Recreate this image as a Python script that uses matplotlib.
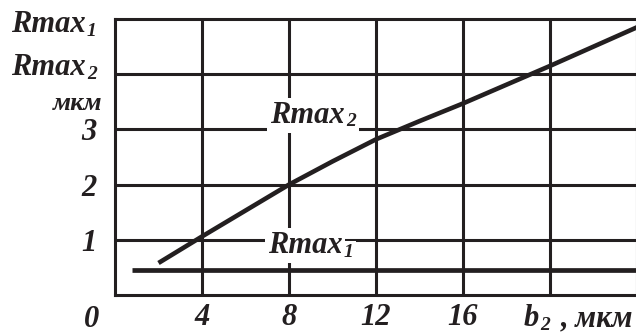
import matplotlib.pyplot as plt
from matplotlib import font_manager

font_file = '/usr/share/fonts/truetype/liberation/LiberationSerif-BoldItalic.ttf'
big = font_manager.FontProperties(fname=font_file, size=22)
small = font_manager.FontProperties(fname=font_file, size=14)
unit = font_manager.FontProperties(fname=font_file, size=19)

# Шероховатость Rmax2 в зависимости от b2 (мкм)
b2 = [2, 4, 6, 8, 10, 12, 14, 16, 18, 20, 22, 24]
rmax2 = [0.58, 1.06, 1.53, 2.0, 2.42, 2.82, 3.15, 3.47, 3.81, 4.15, 4.5, 4.85]

# Rmax1 постоянна
rmax1_b2 = [0.8, 24]
rmax1 = [0.45, 0.45]

xticks = [4, 8, 12, 16, 20]
xtick_labels = ['4', '8', '12', '16', '']
yticks = [1, 2, 3, 4]
ytick_labels = ['1', '2', '3', '']

ink = '#231f20'
W, H = 636, 333

fig = plt.figure(figsize=(W / 100, H / 100), dpi=100)
ax = fig.add_axes([115 / W, 38 / H, 24 * 21.75 / W, 5 * 55.2 / H])
ax.set_xlim(0, 24)
ax.set_ylim(0, 5)

ax.set_xticks(xticks, xtick_labels, fontproperties=big)
ax.set_yticks(yticks, ytick_labels, fontproperties=big)
ax.tick_params(length=0, colors=ink)
ax.tick_params(axis='x', pad=6)
ax.tick_params(axis='y', pad=13)
ax.grid(True, color=ink, linewidth=2.2)
for side in ['left', 'bottom', 'top', 'right']:
    ax.spines[side].set_linewidth(2.2)
    ax.spines[side].set_color(ink)

ax.plot(b2, rmax2, color=ink, linewidth=3.3, solid_capstyle='butt', zorder=5)
ax.plot(rmax1_b2, rmax1, color=ink, linewidth=3.4, solid_capstyle='butt', zorder=5)


def label(x, y, main, sub, transform, box=None):
    t = ax.text(x, y, main, fontproperties=big, color=ink, ha='left', va='baseline',
                transform=transform, bbox=box, zorder=4)
    ax.annotate(sub, xy=(1, 0), xycoords=t, xytext=(1, 2.5), textcoords='offset points',
                fontproperties=small, color=ink, ha='left', va='baseline',
                bbox=box, zorder=4, annotation_clip=False)
    return t


box = dict(facecolor='white', edgecolor='none', pad=2)
label(7.13, 3.12, 'Rmax', '2', ax.transData, box)
label(7.03, 0.76, 'Rmax', '1', ax.transData, box)

# подписи осей
label(11 / W, 1 - 32 / H, 'Rmax', '1', fig.transFigure)
label(11 / W, 1 - 75 / H, 'Rmax', '2', fig.transFigure)
fig.text(103 / W, 1 - 110 / H, 'мкм', fontproperties=unit, color=ink, ha='right', va='baseline')
fig.text(92 / W, 1 - 327 / H, '0', fontproperties=big, color=ink, ha='center', va='baseline')
label(524 / W, 1 - 326 / H, 'b', '2', fig.transFigure)
fig.text(633 / W, 1 - 326 / H, ', мкм', fontproperties=big, color=ink, ha='right', va='baseline')

fig.savefig('out.png', dpi=100, facecolor='white')
